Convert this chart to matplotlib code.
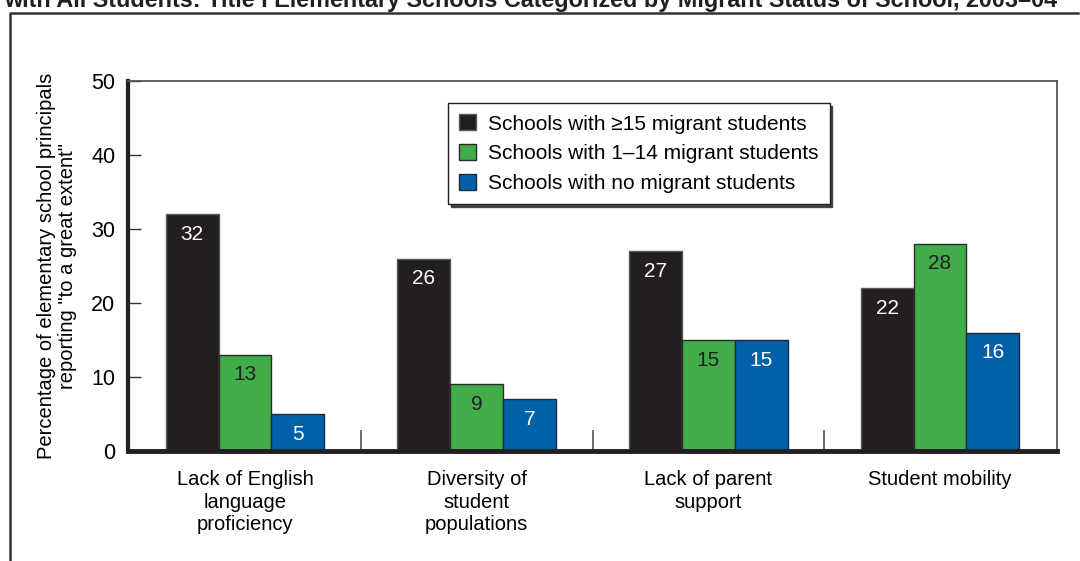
import matplotlib
matplotlib.use("Agg")
import matplotlib.pyplot as plt
from matplotlib.lines import Line2D
import numpy as np

plt.rcParams['font.family'] = ['Liberation Sans', 'DejaVu Sans']

categories = ["Lack of English\nlanguage\nproficiency",
              "Diversity of\nstudent\npopulations",
              "Lack of parent\nsupport",
              "Student mobility"]
series_names = ["Schools with \u226515 migrant students",
                "Schools with 1\u201314 migrant students",
                "Schools with no migrant students"]
many_migrant = [32, 26, 27, 22]
some_migrant = [13, 9, 15, 28]
no_migrant = [5, 7, 15, 16]
yticks = [0, 10, 20, 30, 40, 50]

colors = ["#231f20", "#41ad49", "#0060a8"]
edge_colors = ["#5a5a5a", "#2b2b2b", "#1e2a3a"]
text_colors = ["white", "#231f20", "white"]

fig = plt.figure(figsize=(10.8, 5.61), dpi=100)
ax = fig.add_axes([128 / 1080, 1 - 451 / 561, (1057 - 128) / 1080, (451 - 81) / 561])

x = np.arange(len(categories))
width = 0.228
all_series = [many_migrant, some_migrant, no_migrant]
for i, vals in enumerate(all_series):
    pos = x + (i - 1) * width
    bars = ax.bar(pos, vals, width, color=colors[i], edgecolor=edge_colors[i],
                  linewidth=1.0, label=series_names[i], zorder=2)
    for b, v in zip(bars, vals):
        ax.annotate(f"{v}", (b.get_x() + b.get_width() / 2, v),
                    xytext=(0, -14.5), textcoords="offset points",
                    ha="center", va="center", fontsize=15, color=text_colors[i], zorder=3)

ax.set_xlim(-0.505, 3.505)
ax.set_ylim(0, 50)
ax.set_yticks(yticks)
ax.tick_params(axis="y", direction="in", length=9, width=1, color="#333333",
               labelsize=15.5, pad=9)
ax.set_xticks(x)
ax.set_xticklabels(categories, fontsize=14.5, linespacing=1.22)
ax.tick_params(axis="x", which="major", length=0, pad=14)
ax.set_xticks([0.5, 1.5, 2.5], minor=True)
ax.tick_params(axis="x", which="minor", direction="in", length=15, width=1.2, color="#555555")

for side in ["top", "right"]:
    ax.spines[side].set_color("#555555")
    ax.spines[side].set_linewidth(1.3)
ax.spines["left"].set_color("#231f20")
ax.spines["left"].set_linewidth(3)
ax.spines["bottom"].set_color("#231f20")
ax.spines["bottom"].set_linewidth(3.5)

ax.set_ylabel("Percentage of elementary school principals\nreporting \"to a great extent\"",
              fontsize=14.5, linespacing=1.1)
ax.yaxis.set_label_coords(-0.055, 0.5)

leg = ax.legend(loc="upper left", bbox_to_anchor=((448 - 128) / 929, (451 - 103) / 370),
                fontsize=15, frameon=True, fancybox=False,
                shadow={"color": "#444444", "alpha": 1},
                handlelength=0.8, handleheight=0.8, handletextpad=0.55,
                labelspacing=0.5, borderpad=0.55, borderaxespad=0)
leg.get_frame().set_edgecolor("#231f20")
leg.get_frame().set_linewidth(1.0)

fig.text(0.004, 1 - 6.5 / 561,
         "with All Students: Title I Elementary Schools Categorized by Migrant Status of School, 2003\u201304",
         fontsize=16.8, fontweight="bold", ha="left", va="baseline", color="#231f20")

fig.add_artist(Line2D([10 / 1080, 10 / 1080, 1078 / 1080],
                      [0, 1 - 13 / 561, 1 - 13 / 561],
                      transform=fig.transFigure, color="#333333", linewidth=1.8))

fig.savefig("out.png", dpi=100)
